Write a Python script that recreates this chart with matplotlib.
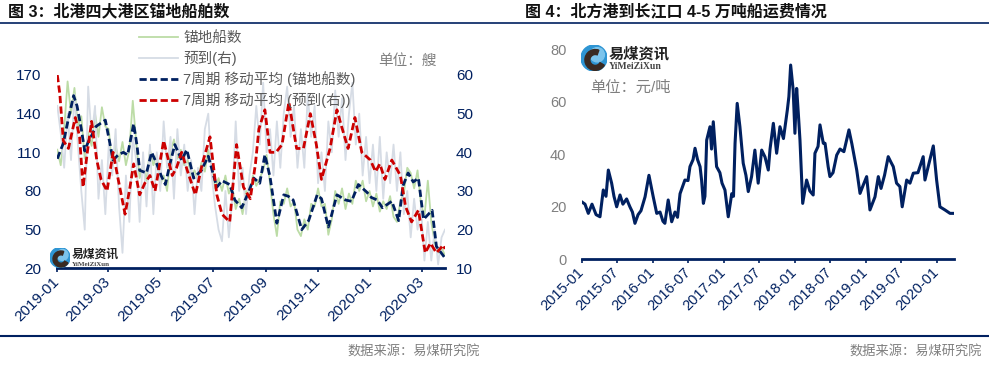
import numpy as np
import pandas as pd
import matplotlib
matplotlib.use('Agg')
import matplotlib.pyplot as plt
import matplotlib.dates as mdates
from matplotlib.lines import Line2D
from matplotlib.patches import Circle, Wedge

plt.rcParams['font.family'] = ['Liberation Sans', 'Noto Sans CJK SC']

# ---------------- 图3 data (raw series every 4 days from 2019-01-01)
anchor_start = '2019-01-01'
anchor_count = [112, 100, 128, 165, 140, 160, 130, 138, 105, 125,
                115, 140, 122, 145, 130, 128, 98, 115, 103, 118,
                100, 112, 150, 118, 90, 100, 88, 112, 100, 108,
                85, 92, 80, 110, 120, 105, 112, 100, 104, 92,
                96, 88, 102, 95, 112, 100, 82, 90, 80, 92,
                78, 84, 66, 74, 62, 80, 76, 92, 84, 90,
                96, 108, 86, 62, 45, 72, 70, 82, 68, 72,
                50, 45, 58, 50, 70, 68, 82, 68, 70, 46,
                58, 80, 70, 82, 66, 78, 70, 88, 80, 88,
                72, 80, 68, 78, 64, 72, 66, 76, 60, 56,
                72, 78, 98, 94, 82, 96, 70, 60, 88, 56,
                40, 32, 36, 30]
arrivals = [52, 45, 36, 50, 38, 55, 42, 30, 20, 57,
            44, 52, 28, 38, 24, 42, 34, 46, 26, 14,
            34, 22, 44, 38, 22, 40, 26, 42, 24, 40,
            30, 48, 36, 44, 28, 46, 34, 42, 30, 38,
            24, 36, 30, 46, 50, 34, 26, 20, 17, 30,
            18, 28, 48, 30, 36, 24, 34, 40, 52, 42,
            58, 40, 46, 34, 48, 36, 50, 57, 44, 52,
            36, 46, 36, 55, 44, 52, 32, 40, 30, 48,
            40, 56, 44, 54, 38, 50, 58, 42, 50, 34,
            44, 32, 42, 30, 44, 28, 40, 32, 42, 30,
            40, 24, 30, 18, 28, 20, 26, 12, 22, 12,
            20, 11, 18, 20]

# 7-period moving averages, read at (day offset from 2019-01-01, value)
ma_anchor_day = [0, 7, 11, 19, 23, 28, 32, 36, 40, 45,
                 56, 61, 65, 71, 77, 82, 89, 93, 96, 104,
                 110, 116, 121, 126, 131, 137, 145, 151, 159, 168,
                 176, 186, 192, 201, 207, 215, 223, 229, 236, 242,
                 248, 256, 264, 269, 275, 285, 293, 303, 308, 316,
                 326, 336, 343, 351, 361, 366, 373, 379, 390, 398,
                 403, 409, 415, 421, 427, 437, 442, 452]
ma_anchor = [105, 117, 130, 154, 146, 128, 111, 118, 123, 130,
             135, 118, 104, 108, 110, 108, 132, 115, 96, 94,
             110, 101, 92, 85, 100, 116, 104, 112, 90, 96,
             107, 83, 88, 85, 73, 67, 79, 90, 86, 108,
             91, 55, 77, 76, 73, 50, 57, 77, 74, 52,
             77, 73, 72, 85, 79, 75, 73, 67, 72, 57,
             84, 94, 87, 90, 58, 65, 37, 28]
ma_arrival_day = [0, 3, 7, 13, 21, 26, 30, 35, 40, 46,
                  51, 58, 65, 71, 79, 84, 89, 96, 102, 108,
                  114, 124, 134, 139, 145, 152, 161, 169, 178, 186,
                  192, 201, 209, 217, 225, 231, 235, 242, 248, 255,
                  262, 270, 279, 287, 295, 302, 308, 318, 326, 331,
                  339, 347, 355, 365, 371, 376, 382, 390, 400, 406,
                  413, 421, 429, 435, 442, 450, 452]
ma_arrival = [60, 55, 43, 41, 49, 44, 31, 40, 48, 38,
              33, 30, 40, 33, 24, 30, 37, 29, 32, 34,
              30, 43, 34, 36, 40, 35, 29, 37, 44, 29,
              24, 22, 42, 31, 28, 37, 46, 51, 40, 40,
              42, 53, 41, 41, 50, 42, 33, 41, 51, 47,
              41, 49, 40, 38, 35, 37, 33, 38, 34, 26,
              22, 25, 14, 16.5, 14, 16, 15]

# ---------------- 图4 data (day offset from 2015-01-01, 元/吨)
freight_start = '2015-01-01'
freight_day = [0, 17, 34, 53, 74, 94, 111, 125, 137, 154,
               166, 180, 197, 212, 231, 248, 261, 274, 290, 305,
               326, 346, 368, 386, 403, 418, 428, 445, 463, 480,
               493, 506, 531, 547, 557, 573, 583, 596, 609, 617,
               626, 634, 643, 660, 668, 677, 694, 711, 722, 737,
               754, 772, 781, 789, 800, 814, 831, 845, 857, 874,
               891, 908, 926, 943, 960, 969, 986, 1003, 1020, 1038,
               1058, 1066, 1075, 1088, 1097, 1106, 1115, 1123, 1137, 1157,
               1174, 1191, 1200, 1216, 1226, 1243, 1252, 1268, 1277, 1293,
               1312, 1329, 1349, 1375, 1390, 1415, 1432, 1447, 1466, 1475,
               1483, 1509, 1526, 1540, 1558, 1577, 1591, 1603, 1620, 1637,
               1649, 1672, 1689, 1706, 1730, 1757, 1766, 1787, 1809, 1826,
               1843, 1869, 1895, 1917]
freight = [21.9, 21, 17.5, 21, 17, 16.2, 26.4, 24, 34, 29,
           24, 20, 24.5, 21, 23, 20, 18, 13.7, 17, 18.5,
           23.8, 32, 23.8, 17.5, 18, 14.5, 13.7, 22.6, 14.3, 18,
           16, 25, 30.2, 30, 35.3, 38, 42.3, 38, 35.3, 30,
           21.3, 24, 45.4, 50.5, 42, 52.4, 35.3, 33, 29, 26.4,
           16.2, 25, 24, 44.2, 59.4, 50.5, 36.6, 32, 25.8, 31.5,
           41.6, 29, 41.6, 39, 34, 42, 51.8, 40.4, 50.5, 46,
           56.9, 62, 74, 64.5, 48, 65.1, 55, 45.4, 21.3, 30.2,
           26, 24.5, 40.4, 43, 51.2, 44.2, 44.2, 35.3, 31.5, 33,
           39.7, 42, 41, 49.3, 44, 34, 25.1, 28, 31.5, 25,
           18.8, 23.8, 31.5, 27, 32, 39.1, 37, 35.3, 29, 27.7,
           20, 30.2, 29, 32.8, 33, 39.1, 30.2, 36.6, 43.2, 30.2,
           20, 18.8, 17.5, 17.5]

NAVY = '#002060'
GREY_TXT = '#7F7F7F'
W, H = 989, 366


def fx(px):
    return px / W


def fy(py):
    return 1 - py / H


def draw_logo(fig, cx, cy, r, cn_size, en_size):
    lax = fig.add_axes([fx(cx - r), fy(cy + r), 2 * r / W, 2 * r / H])
    lax.set_xlim(-1, 1)
    lax.set_ylim(-1, 1)
    lax.axis('off')
    lax.add_patch(Circle((0, 0), 1, color='#2E95D3'))
    lax.add_patch(Circle((0.25, 0.25), 0.55, color='#7CC4EC'))
    lax.add_patch(Wedge((0.1, -0.15), 0.8, 70, 330, width=0.38, color='#3A2A22'))
    fig.text(fx(cx + r + 2), fy(cy - r * 0.3), '易煤资讯', fontsize=cn_size,
             fontweight='bold', color='#222222', va='center', ha='left')
    fig.text(fx(cx + r + 2), fy(cy + r * 0.65), 'YiMeiZiXun', fontsize=en_size,
             family='Liberation Serif', fontweight='bold', color='#444444',
             va='center', ha='left')


fig = plt.figure(figsize=(9.89, 3.66), dpi=100)

# ---------------- left chart
ax1 = fig.add_axes([fx(57.3), fy(268.3), fx(445) - fx(57.3), fy(75) - fy(268.3)])
ax2 = ax1.twinx()
t0 = pd.Timestamp(anchor_start)
raw_dates = pd.date_range(t0, periods=len(anchor_count), freq='4D')
ma1_dates = t0 + pd.to_timedelta(ma_anchor_day, unit='D')
ma2_dates = t0 + pd.to_timedelta(ma_arrival_day, unit='D')

ax1.set_xlim(t0, t0 + pd.Timedelta(days=452))
ax1.set_ylim(20, 170)
ax2.set_ylim(10, 60)

dash = (0, (2.6, 1.2))
l1, = ax1.plot(raw_dates, anchor_count, color='#BCDCA6', lw=1.3, zorder=1)
l2, = ax1.plot(raw_dates, arrivals, color='#D6DCE5', lw=1.3, zorder=2,
               transform=ax2.transData)
l3, = ax1.plot(ma1_dates, ma_anchor, color=NAVY, lw=2, ls=dash, zorder=3)
l4, = ax1.plot(ma2_dates, ma_arrival, color='#CC0000', lw=2, ls=dash, zorder=4,
               transform=ax2.transData)

ax1.set_yticks([20, 50, 80, 110, 140, 170])
ax2.set_yticks([10, 20, 30, 40, 50, 60])
ax1.xaxis.set_major_locator(mdates.MonthLocator(bymonth=[1, 3, 5, 7, 9, 11]))
ax1.xaxis.set_major_formatter(mdates.DateFormatter('%Y-%m'))
ax1.tick_params(axis='y', length=0, pad=11.5, labelsize=11, labelcolor=NAVY)
ax2.tick_params(axis='y', length=0, pad=8, labelsize=11, labelcolor=NAVY)
ax1.tick_params(axis='x', length=3, width=1.2, color=NAVY, pad=5,
                labelsize=11, labelcolor=NAVY)
for lab in ax1.get_xticklabels():
    lab.set_rotation(45)
    lab.set_ha('right')
    lab.set_va('center')
    lab.set_rotation_mode('anchor')
for s in ['left', 'right', 'top']:
    ax1.spines[s].set_visible(False)
for s in ax2.spines.values():
    s.set_visible(False)
ax1.spines['bottom'].set_color(NAVY)
ax1.spines['bottom'].set_linewidth(2)

ax1.legend([l1, l2, l3, l4],
           ['锚地船数', '预到(右)', '7周期 移动平均 (锚地船数)', '7周期 移动平均 (预到(右))'],
           loc='upper left', bbox_to_anchor=(fx(139), fy(31)),
           bbox_transform=fig.transFigure, frameon=False, fontsize=10.5,
           labelcolor='#595959', handlelength=2.7, handletextpad=0.35,
           labelspacing=0.38, borderpad=0, borderaxespad=0)
fig.text(fx(437), fy(61), '单位：艘', ha='right', va='center', color=GREY_TXT, fontsize=10.5)
draw_logo(fig, 60, 257.5, 10, 8.5, 5)

# ---------------- right chart
ax3 = fig.add_axes([fx(581.7), fy(259.3), fx(954.3) - fx(581.7), fy(49.3) - fy(259.3)])
t1 = pd.Timestamp(freight_start)
fr_dates = t1 + pd.to_timedelta(freight_day, unit='D')
ax3.plot(fr_dates, freight, color=NAVY, lw=2.2)
ax3.set_xlim(t1, t1 + pd.Timedelta(days=1917))
ax3.set_ylim(0, 80)
ax3.set_yticks([0, 20, 40, 60, 80])
ax3.xaxis.set_major_locator(mdates.MonthLocator(bymonth=[1, 7]))
ax3.xaxis.set_major_formatter(mdates.DateFormatter('%Y-%m'))
ax3.tick_params(axis='y', length=0, pad=11, labelsize=10.5, labelcolor=GREY_TXT)
ax3.tick_params(axis='x', length=3, width=1.2, color=NAVY, pad=5,
                labelsize=10.5, labelcolor=NAVY)
for lab in ax3.get_xticklabels():
    lab.set_rotation(45)
    lab.set_ha('right')
    lab.set_va('center')
    lab.set_rotation_mode('anchor')
for s in ['left', 'right', 'top']:
    ax3.spines[s].set_visible(False)
ax3.spines['bottom'].set_color(NAVY)
ax3.spines['bottom'].set_linewidth(2)
draw_logo(fig, 594, 58, 13, 11, 7)
fig.text(fx(590), fy(88), '单位：元/吨', ha='left', va='center', color=GREY_TXT, fontsize=11)

# ---------------- titles, rules, sources
fig.text(fx(8), fy(11), '图 3：北港四大港区锚地船舶数', fontsize=11.5,
         fontweight='bold', va='center', ha='left', color='#111111')
fig.text(fx(525), fy(11), '图 4：北方港到长江口 4-5 万吨船运费情况', fontsize=11.5,
         fontweight='bold', va='center', ha='left', color='#111111')
fig.add_artist(Line2D([0, 1], [fy(23.3), fy(23.3)], color=NAVY, lw=1.2))
fig.add_artist(Line2D([0, 1], [fy(336), fy(336)], color=NAVY, lw=1.5))
fig.text(fx(480), fy(352), '数据来源：易煤研究院', ha='right', va='center',
         color=GREY_TXT, fontsize=9.5)
fig.text(fx(982), fy(352), '数据来源：易煤研究院', ha='right', va='center',
         color=GREY_TXT, fontsize=9.5)

fig.savefig('out.png', dpi=100)
